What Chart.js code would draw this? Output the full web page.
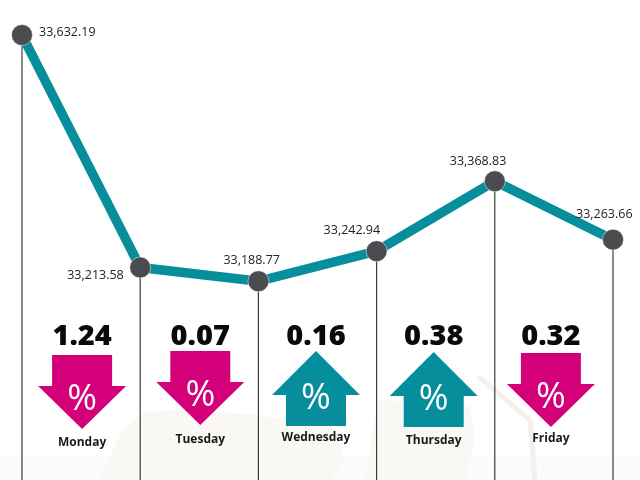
<!DOCTYPE html>
<html>
<head>
<meta charset="utf-8">
<script src="https://cdn.jsdelivr.net/npm/chart.js@4"></script>
<style>
  html, body { margin: 0; padding: 0; background: #fff; }
  canvas { display: block; }
</style>
</head>
<body>
<canvas id="indexChart" width="640" height="480"></canvas>
<script>
// Closing index values, first one is the previous week's close
const sessions = ["Previous", "Monday", "Tuesday", "Wednesday", "Thursday", "Friday"];
const closes = [33632.19, 33213.58, 33188.77, 33242.94, 33368.83, 33263.66];
const closeLabels = ["33,632.19", "33,213.58", "33,188.77", "33,242.94", "33,368.83", "33,263.66"];

// Daily change in percent
const days = ["Monday", "Tuesday", "Wednesday", "Thursday", "Friday"];
const changes = ["1.24", "0.07", "0.16", "0.38", "0.32"];
const directions = ["down", "down", "up", "up", "down"];

const TEAL = '#078e9c';
const PINK = '#d4007a';
const DARK = '#4b4b50';

// offsets of the value labels from their point (left edge, baseline)
const labelOffsets = [[17, 1], [-73, 12], [-35, -17], [-53, -17], [-45, -16], [-37, -22]];
// small hand placed shifts, the original isn't perfectly aligned
const arrowTops = [355, 351, 351, 352, 353];
const arrowShifts = [1, 1, -1.5, -2, -3];
const dayBaselines = [446, 443, 441, 444, 442];

const backdrop = {
    id: 'backdrop',
    beforeDraw(chart) {
        const ctx = chart.ctx;
        ctx.save();
        ctx.fillStyle = '#fafbfb';
        ctx.fillRect(0, 457, 640, 23);
        ctx.fillStyle = '#f9f8f4';
        ctx.beginPath();
        ctx.moveTo(100, 480);
        ctx.lineTo(122, 430);
        ctx.lineTo(145, 412);
        ctx.lineTo(195, 409);
        ctx.lineTo(255, 415);
        ctx.lineTo(290, 420);
        ctx.lineTo(330, 422);
        ctx.lineTo(345, 460);
        ctx.lineTo(330, 480);
        ctx.closePath();
        ctx.fill();
        ctx.beginPath();
        ctx.moveTo(365, 480);
        ctx.lineTo(378, 400);
        ctx.lineTo(470, 405);
        ctx.lineTo(475, 440);
        ctx.lineTo(465, 480);
        ctx.closePath();
        ctx.fill();
        ctx.strokeStyle = '#f3f1ea';
        ctx.lineWidth = 5;
        ctx.beginPath();
        ctx.moveTo(478, 376);
        ctx.lineTo(500, 395);
        ctx.lineTo(530, 420);
        ctx.lineTo(535, 480);
        ctx.stroke();
        ctx.restore();
    }
};

const dropLines = {
    id: 'dropLines',
    beforeDatasetsDraw(chart) {
        const ctx = chart.ctx;
        const x = chart.scales.x, y = chart.scales.y;
        ctx.save();
        ctx.strokeStyle = '#3c3c3c';
        ctx.lineWidth = 1.2;
        closes.forEach((v, i) => {
            ctx.beginPath();
            ctx.moveTo(x.getPixelForValue(i), y.getPixelForValue(v));
            ctx.lineTo(x.getPixelForValue(i), chart.height);
            ctx.stroke();
        });
        ctx.restore();
    }
};

function drawArrow(ctx, cx, top, dir) {
    // 87 wide head, 60 wide shaft, 74 tall
    ctx.beginPath();
    if (dir === 'down') {
        ctx.moveTo(cx - 30, top);
        ctx.lineTo(cx + 30, top);
        ctx.lineTo(cx + 30, top + 31);
        ctx.lineTo(cx + 44, top + 31);
        ctx.lineTo(cx, top + 74);
        ctx.lineTo(cx - 44, top + 31);
        ctx.lineTo(cx - 30, top + 31);
    } else {
        ctx.moveTo(cx, top);
        ctx.lineTo(cx + 44, top + 44);
        ctx.lineTo(cx + 30, top + 44);
        ctx.lineTo(cx + 30, top + 75);
        ctx.lineTo(cx - 30, top + 75);
        ctx.lineTo(cx - 30, top + 44);
        ctx.lineTo(cx - 44, top + 44);
    }
    ctx.closePath();
    ctx.fillStyle = dir === 'down' ? PINK : TEAL;
    ctx.fill();
}

const annotations = {
    id: 'annotations',
    afterDatasetsDraw(chart) {
        const ctx = chart.ctx;
        const x = chart.scales.x, y = chart.scales.y;
        ctx.save();

        // value labels
        ctx.font = '12.5px "Open Sans"';
        ctx.fillStyle = '#222';
        ctx.textAlign = 'left';
        ctx.textBaseline = 'alphabetic';
        closeLabels.forEach((t, i) => {
            ctx.fillText(t, x.getPixelForValue(i) + labelOffsets[i][0], y.getPixelForValue(closes[i]) + labelOffsets[i][1]);
        });

        // one arrow block in each gap
        ctx.textAlign = 'center';
        days.forEach((d, i) => {
            const cx = (x.getPixelForValue(i) + x.getPixelForValue(i + 1)) / 2 + arrowShifts[i];
            const top = arrowTops[i];
            drawArrow(ctx, cx, top, directions[i]);

            ctx.fillStyle = '#0a0a0a';
            ctx.font = '800 29px "Open Sans"';
            ctx.fillText(changes[i], cx, 345);

            ctx.fillStyle = '#fff';
            ctx.font = '36px "Open Sans"';
            ctx.fillText('%', cx, top + (directions[i] === 'down' ? 55 : 58));

            ctx.fillStyle = '#1a1a1a';
            ctx.font = 'bold 12px "Open Sans"';
            ctx.fillText(d, cx, dayBaselines[i]);
        });
        ctx.restore();
    }
};

new Chart(document.getElementById('indexChart').getContext('2d'), {
    type: 'line',
    data: {
        labels: sessions,
        datasets: [{
            data: closes,
            borderColor: TEAL,
            borderWidth: 9.5,
            tension: 0,
            clip: false,
            pointRadius: 10.5,
            pointBackgroundColor: DARK,
            pointBorderColor: '#fff',
            pointBorderWidth: 0.5
        }]
    },
    options: {
        responsive: false,
        animation: false,
        layout: { padding: { left: 22, right: 27, top: 0, bottom: 0 } },
        plugins: { legend: { display: false }, tooltip: { enabled: false } },
        scales: {
            x: { display: false, offset: false },
            y: { display: false, min: 32850.6, max: 33675.5 }
        }
    },
    plugins: [backdrop, dropLines, annotations]
});
</script>
</body>
</html>
